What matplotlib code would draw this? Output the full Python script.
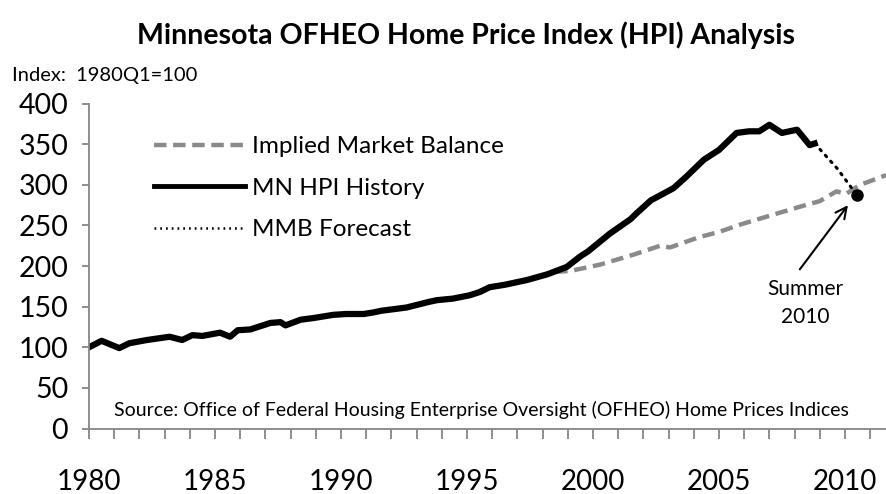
import matplotlib
matplotlib.use("Agg")
import matplotlib.pyplot as plt
from matplotlib.lines import Line2D
from matplotlib.ticker import MultipleLocator, FuncFormatter

plt.rcParams['font.family'] = ['Lato', 'DejaVu Sans']

# ---- data ----
hpi_years = [1980.0, 1980.5, 1981.2, 1981.6, 1982.3, 1983.2, 1983.7, 1984.1, 1984.5,
             1985.2, 1985.6, 1985.9, 1986.4, 1987.2, 1987.6, 1987.8, 1988.4, 1988.9,
             1989.7, 1990.2, 1990.9, 1991.3, 1991.6, 1992.6, 1993.5, 1993.8, 1994.45,
             1995.1, 1995.5, 1995.9, 1996.5, 1997.4, 1998.2, 1998.96, 1999.5, 1999.8,
             2000.67, 2001.5, 2001.73, 2002.3, 2003.2, 2003.7, 2004.4, 2005.0, 2005.7,
             2006.2, 2006.6, 2007.0, 2007.5, 2008.1, 2008.6, 2008.8]
hpi_vals = [100, 108, 99, 105, 109, 113, 109, 115, 114,
            118, 113, 121, 122, 130, 131, 127, 134, 136,
            140, 141, 141, 143, 145, 149, 156, 158, 160,
            164, 168, 174, 177, 183, 190, 199, 212, 218,
            240, 258, 265, 281, 296, 310, 331, 343, 364,
            366, 366, 374, 364, 368, 349, 351]

imb_years = [1998.5, 1999.1, 2000.3, 2001.6, 2002.66, 2003.06, 2004.25, 2005.0,
             2005.83, 2006.9, 2008.2, 2009.0, 2009.66, 2010.05, 2010.6, 2011.63]
imb_vals = [193, 194, 202, 214, 225, 223, 236, 242,
            251, 261, 273, 280, 292, 289, 300, 312]

fc_years = [2008.8, 2009.7, 2010.46]
fc_vals = [351, 320, 288]

legend_labels = ["Implied Market Balance", "MN HPI History", "MMB Forecast"]
title = "Minnesota OFHEO Home Price Index (HPI) Analysis"
source = "Source: Office of Federal Housing Enterprise Oversight (OFHEO) Home Prices Indices"
note_text = "Summer\n2010"

W, H = 886, 494
fig = plt.figure(figsize=(W / 100, H / 100), dpi=100)
ax = fig.add_axes([89 / W, 1 - 428.5 / H, 797 / W, (428.5 - 103.7) / H])

gray = '#8a8a8a'
dash = (0, (2.8, 1.5))
ax.plot(imb_years, imb_vals, color=gray, lw=3.2, ls=dash, solid_capstyle='butt')
ax.plot(hpi_years, hpi_vals, color='black', lw=4.5, solid_joinstyle='round')
ax.plot(fc_years, fc_vals, color='black', lw=2.2, ls=(0, (0.6, 2.0)), dash_capstyle='round')
ax.plot([fc_years[-1]], [fc_vals[-1]], 'o', color='black', ms=8)

ax.set_xlim(1980, 2011.63)
ax.set_ylim(0, 400)

for s in ['top', 'right']:
    ax.spines[s].set_visible(False)
for s in ['left', 'bottom']:
    ax.spines[s].set_color('#868686')
    ax.spines[s].set_linewidth(1.3)

ax.yaxis.set_major_locator(MultipleLocator(50))
ax.xaxis.set_major_locator(MultipleLocator(1))
ax.xaxis.set_major_formatter(FuncFormatter(lambda v, p: f"{int(round(v))}" if int(round(v)) % 5 == 0 else ""))
ax.tick_params(axis='y', direction='out', length=5, width=1.3, color='#868686',
               labelsize=20.5, pad=10)
ax.tick_params(axis='x', direction='out', length=7, width=1.3, color='#868686',
               labelsize=20, pad=22)

leg_handles = [Line2D([], [], color=gray, lw=3.2, ls=dash),
               Line2D([], [], color='black', lw=3.5),
               Line2D([], [], color='black', lw=1.8, ls=(0, (0.7, 1.6)))]
ax.legend(leg_handles, legend_labels, loc='upper left', frameon=False, fontsize=17.5,
          bbox_to_anchor=(154 / W, 1 - 136 / H), bbox_transform=fig.transFigure,
          handlelength=3.75, handletextpad=0.3, labelspacing=0.85, borderpad=0,
          borderaxespad=0)

fig.text(466 / W, 1 - 35 / H, title, ha='center', va='center', fontsize=20.5,
         fontweight='bold')
fig.text(12 / W, 1 - 75 / H, "Index:  1980Q1=100", ha='left', va='center', fontsize=14.5)
fig.text(481 / W, 1 - 410 / H, source, ha='center', va='center', fontsize=14)

# annotation arrow and text
ax.annotate("", xy=(2010.12, 275), xytext=(2008.21, 196),
            arrowprops=dict(arrowstyle='->', color='black', lw=1.5,
                            mutation_scale=20, shrinkA=0, shrinkB=0))
ax.text(2008.41, 154.5, note_text, ha='center', va='center', fontsize=15,
        linespacing=1.45)

fig.savefig("out.png", dpi=100)
